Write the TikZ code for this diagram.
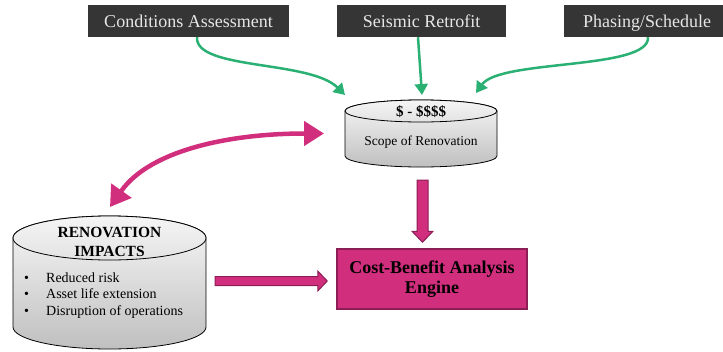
\documentclass[tikz,border=0pt]{standalone}
\usepackage{fontspec}
\setmainfont{Liberation Serif}
\usetikzlibrary{arrows.meta,calc}
\definecolor{boxgray}{HTML}{353535}
\definecolor{boxtext}{HTML}{E6E6E6}
\definecolor{flowgreen}{HTML}{2BB074}
\definecolor{mag}{HTML}{D12E7D}
\definecolor{magdark}{HTML}{8C1E55}
\begin{document}
\begin{tikzpicture}[x=1pt,y=1pt,
  topbox/.style={fill=boxgray, text=boxtext, inner sep=0pt, minimum height=32pt,
    text height=12pt, text depth=0pt, font=\fontsize{18}{20}\selectfont},
  greenarrow/.style={draw=flowgreen, line width=2.5pt, -{Triangle[length=11pt,width=13pt]}},
  magarrow/.style={draw=mag, line width=4.5pt,
    {Triangle[length=20pt,width=24pt]}-{Triangle[length=20pt,width=24pt]}},
  blockarrow/.style={fill=mag, draw=magdark, line width=1pt, line join=miter},
  cylframe/.style={inner sep=0pt, outer sep=0pt},
  cylbody/.style={draw=black, line width=0.8pt, top color=gray!6, bottom color=gray!50},
  cyltop/.style={draw=black, line width=0.8pt, top color=gray!8, bottom color=gray!22},
  bul/.style={anchor=base west, inner sep=0pt, font=\fontsize{14}{16}\selectfont},
]
\useasboundingbox (0,0) rectangle (723,-351);

% top input boxes
\node[topbox, minimum width=201pt] (ca) at (188.5,-21) {Conditions Assessment};
\node[topbox, minimum width=169pt] (sr) at (421.5,-21) {Seismic Retrofit};
\node[topbox, minimum width=166pt] (ps) at (647,-21) {Phasing/Schedule};

% scope cylinder
\node[cylframe, minimum width=152pt, minimum height=67pt] (scope) at (421,-133.5) {};
\path[cylbody] (345,-111) -- (345,-156)
  arc[start angle=180,end angle=360,x radius=76pt,y radius=11pt] -- (497,-111)
  arc[start angle=0,end angle=180,x radius=76pt,y radius=11pt] -- cycle;
\path[cyltop] (421,-111) ellipse[x radius=76pt,y radius=11pt];
\node[anchor=base, font=\fontsize{15}{17}\selectfont\bfseries] (scopeprice) at (421,-116) {\$ - \$\$\$\$};
\node[anchor=base, font=\fontsize{13.5}{16}\selectfont] (scopelabel) at (421,-145) {Scope of Renovation};

% renovation impacts cylinder
\node[cylframe, minimum width=193pt, minimum height=133pt] (ri) at (109.5,-282.5) {};
\path[cylbody] (13,-238) -- (13,-327)
  arc[start angle=180,end angle=360,x radius=96.5pt,y radius=22pt] -- (206,-238)
  arc[start angle=0,end angle=180,x radius=96.5pt,y radius=22pt] -- cycle;
\path[cyltop] (109.5,-238) ellipse[x radius=96.5pt,y radius=22pt];
\node[anchor=base, font=\fontsize{15.5}{19}\selectfont\bfseries] (rit1) at (109.5,-237) {RENOVATION};
\node[anchor=base, font=\fontsize{15.5}{19}\selectfont\bfseries] (rit2) at (109.5,-256) {IMPACTS};
\node[bul] (b1) at (24,-282) {\makebox[22pt][l]{•}Reduced risk};
\node[bul] (b2) at (24,-298.5) {\makebox[22pt][l]{•}Asset life extension};
\node[bul] (b3) at (24,-315) {\makebox[22pt][l]{•}Disruption of operations};

% cost-benefit engine
\node[draw=magdark, line width=1.5pt, fill=mag, minimum width=190pt, minimum height=60pt,
  align=center, font=\fontsize{18}{20}\selectfont\bfseries] (cba) at (432,-279)
  {Cost-Benefit Analysis\\Engine};

% block arrows (scope -> engine, impacts -> engine)
\coordinate (dA) at ([shift={(1.5,-13)}]scope.south);
\coordinate (dB) at ([shift={(-9.5,6)}]cba.north);
\path[blockarrow] ($(dA)+(-5.5,0)$) -- ($(dB)+(-5.5,11)$) -- ($(dB)+(-10.5,11)$) -- (dB)
  -- ($(dB)+(10.5,11)$) -- ($(dB)+(5.5,11)$) -- ($(dA)+(5.5,0)$) -- cycle;
\coordinate (rA) at ([shift={(9,1.5)}]ri.east);
\coordinate (rB) at ([shift={(-9,-2)}]cba.west);
\path[blockarrow] ($(rA)+(0,4.5)$) -- ($(rB)+(-9.5,4.5)$) -- ($(rB)+(-9.5,10)$) -- (rB)
  -- ($(rB)+(-9.5,-10)$) -- ($(rB)+(-9.5,-4.5)$) -- ($(rA)+(0,-4.5)$) -- cycle;

% green inputs
\draw[greenarrow] ([xshift=8.5pt]ca.south) .. controls +(-2,-33) and +(-35,35) .. ([yshift=5pt]scope.north west);
\draw[greenarrow] ([xshift=-3.5pt]sr.south) -- ([shift={(1,5)}]scope.north);
\draw[greenarrow] ([xshift=1pt]ps.south) .. controls +(2,-33) and +(24,34) .. ([shift={(-21,7)}]scope.north east);

% magenta feedback
\draw[magarrow] ([shift={(0.5,9)}]ri.north) .. controls +(40,57) and +(-94,0) .. ([xshift=-21pt]scope.west);
\end{tikzpicture}
\end{document}
